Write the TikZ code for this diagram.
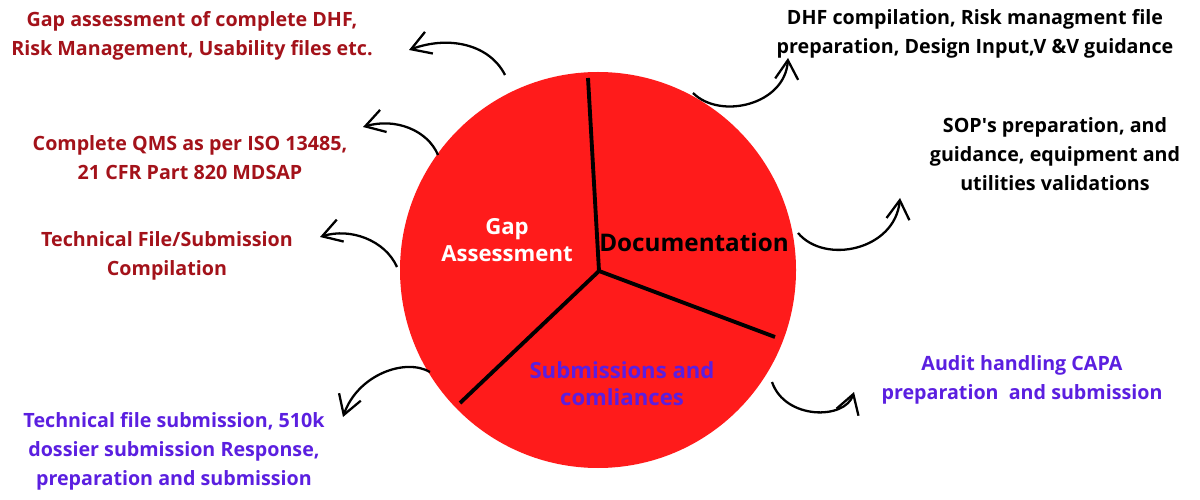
\documentclass[tikz,border=0pt]{standalone}
\usepackage{fontspec}
\setmainfont{Open Sans}
\usetikzlibrary{arrows.meta, positioning}
\definecolor{wheelred}{HTML}{FF1B1B}
\definecolor{darkred}{HTML}{A3121A}
\definecolor{violet2}{HTML}{5B1FE0}
\tikzset{
  note/.style={align=center, inner sep=0pt,
    font=\fontsize{11.2}{16.5}\selectfont\bfseries},
  noteRed/.style={note, text=darkred},
  noteBlack/.style={note, text=black},
  notePurple/.style={note, text=violet2},
  wheellabel/.style={align=center, inner sep=0pt,
    font=\fontsize{12.6}{15.5}\selectfont\bfseries},
  spoke/.style={line width=2.2pt, black},
  curvy/.style={-{Straight Barb[length=3.8mm, width=4.6mm]}, line width=1.3pt, black},
}
\begin{document}
\begin{tikzpicture}
\useasboundingbox (0,0) rectangle (24,-10);
% the wheel
\node[circle, fill=wheelred, minimum size=7.92cm, inner sep=0pt] (wheel) at (11.96,-5.4) {};
\coordinate (hub) at (11.98,-5.42);
\coordinate (spokeup) at (11.76,-1.56);
\coordinate (spokeright) at (15.5,-6.74);
\coordinate (spokeleft) at (9.2,-8.06);
\draw[spoke] (spokeup) -- (hub) -- (spokeright);
\draw[spoke] (hub) -- (spokeleft);
\node[wheellabel, text=white] (gaplbl) at (10.14,-4.8) {Gap\\Assessment};
\node[wheellabel, text=black, font=\fontsize{13.8}{16}\selectfont\bfseries] (doclbl) at (13.88,-4.84) {Documentation};
\node[wheellabel, text=violet2] (sublbl) at (12.44,-7.68) {Submissions and\\comliances};
% notes round the wheel
\node[noteRed] (gapnote) at (3.84,-0.71) {Gap assessment of complete DHF,\\Risk Management, Usability files etc.};
\node[noteRed] (qmsnote) at (3.8,-3.16) {Complete QMS as per ISO 13485,\\21 CFR Part 820 MDSAP};
\node[noteRed] (techfile) at (3.34,-5.11) {Technical File/Submission\\Compilation};
\node[notePurple] (subnote) at (3.48,-9.02) {Technical file submission, 510k\\dossier submission Response,\\preparation and submission};
\node[noteBlack] (dhfnote) at (19.5,-0.67) {DHF compilation, Risk managment file\\preparation, Design Input,V \&V guidance};
\node[noteBlack] (sopnote) at (21.1,-3.08) {SOP\textquotesingle s preparation, and\\guidance, equipment and\\utilities validations};
\node[notePurple] (auditnote) at (20.44,-7.59) {Audit handling CAPA\\preparation~ and submission};
% arrow ends
\coordinate (a1s) at (10.1,-1.5);  \coordinate (a1e) at (8.18,-1.0);
\coordinate (a2s) at (8.76,-3.1);  \coordinate (a2e) at (7.26,-2.54);
\coordinate (a3s) at (7.94,-5.34); \coordinate (a3e) at (6.4,-4.74);
\coordinate (a4s) at (8.6,-7.44);  \coordinate (a4e) at (6.86,-8.34);
\coordinate (a5s) at (13.86,-1.86); \coordinate (a5e) at (15.76,-1.16);
\coordinate (a6s) at (15.96,-4.66); \coordinate (a6e) at (18.0,-3.96);
\coordinate (a7s) at (15.44,-7.64); \coordinate (a7e) at (17.08,-7.84);
\draw[curvy] (a1s) .. controls (9.8,-0.9) and (9.0,-0.7) .. (a1e);
\draw[curvy] (a2s) .. controls (8.55,-2.6) and (7.9,-2.35) .. (a2e);
\draw[curvy] (a3s) .. controls (7.7,-4.8) and (7.0,-4.55) .. (a3e);
\draw[curvy] (a4s) .. controls (8.1,-7.15) and (7.15,-7.5) .. (a4e);
\draw[curvy] (a5s) .. controls (14.4,-2.4) and (15.7,-2.1) .. (a5e);
\draw[curvy] (a6s) .. controls (16.5,-5.3) and (17.9,-5.0) .. (a6e);
\draw[curvy] (a7s) .. controls (15.7,-8.4) and (16.9,-8.4) .. (a7e);
\end{tikzpicture}
\end{document}
